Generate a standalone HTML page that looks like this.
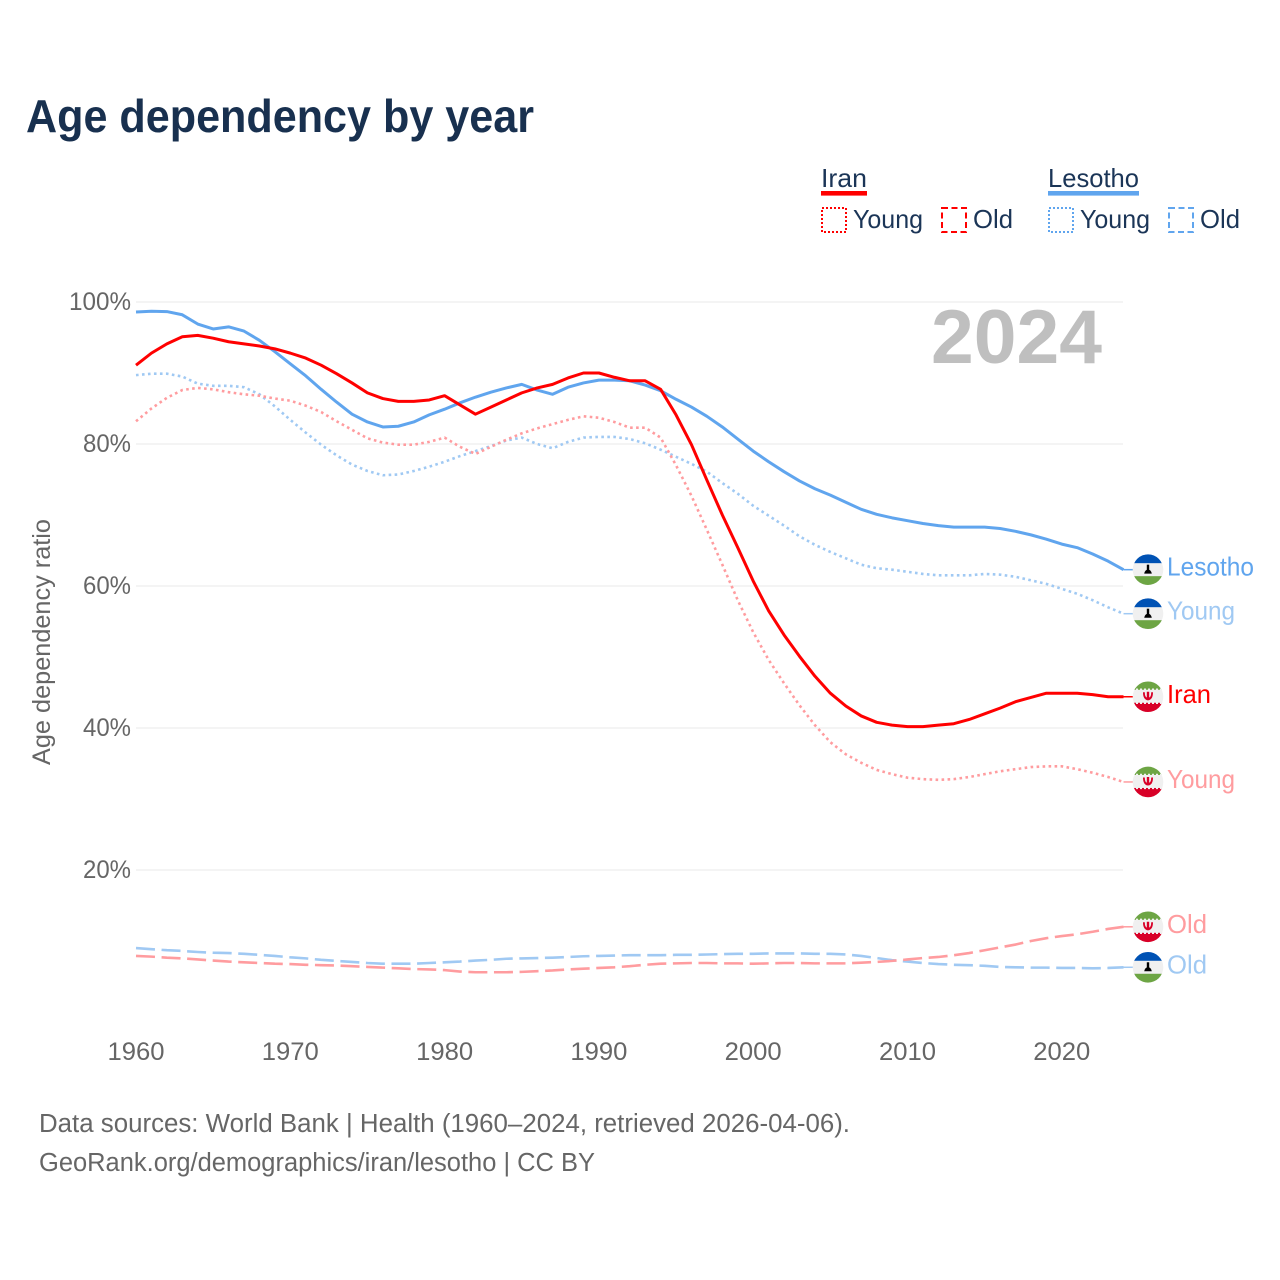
<!DOCTYPE html>
<html lang="en">
<head>
<meta charset="utf-8">
<title>Age dependency by year</title>
<style>
html,body{margin:0;padding:0;background:#fff;}
svg{display:block;}
text{font-family:"Liberation Sans",sans-serif;}
</style>
</head>
<body>
<svg id="chart" xmlns="http://www.w3.org/2000/svg" width="1280" height="1280" viewBox="0 0 1280 1280">
  <defs>
    <clipPath id="flag-clip"><circle cx="0" cy="0" r="15.3"/></clipPath>
    <g id="flag-lesotho" clip-path="url(#flag-clip)">
      <rect x="-16" y="-16" width="32" height="32" fill="#f0f0f0"/>
      <rect x="-16" y="-16" width="32" height="9.5" fill="#0052b4"/>
      <rect x="-16" y="6.5" width="32" height="9.5" fill="#6da544"/>
      <rect x="-1.2" y="-5" width="2.4" height="7" fill="#000"/>
      <path d="M-3.8 4 Q-3 0 0 0 Q3 0 3.8 4 Z" fill="#000"/>
    </g>
    <g id="flag-iran" clip-path="url(#flag-clip)">
      <rect x="-16" y="-16" width="32" height="32" fill="#f0f0f0"/>
      <rect x="-16" y="-16" width="32" height="9" fill="#6da544"/>
      <rect x="-16" y="6" width="32" height="10" fill="#d80027"/>
      <line x1="-16" y1="-7.4" x2="16" y2="-7.4" stroke="#f0f0f0" stroke-width="1.6" stroke-dasharray="2 2"/>
      <line x1="-16" y1="6.4" x2="16" y2="6.4" stroke="#f0f0f0" stroke-width="1.6" stroke-dasharray="2 2"/>
      <path d="M-5 -4.5 Q-5 3 0 3.6 Q5 3 5 -4.5 L3.2 -4.5 Q3.2 0 1.2 0.8 L1.2 -5 L-1.2 -5 L-1.2 0.8 Q-3.2 0 -3.2 -4.5 Z" fill="#d80027"/>
    </g>
  </defs>

  <rect x="0" y="0" width="1280" height="1280" fill="#ffffff"/>

  <text x="26" y="132" font-size="46" font-weight="700" fill="#18304f" textLength="508" lengthAdjust="spacingAndGlyphs">Age dependency by year</text>

  <g font-size="26" fill="#1b3557">
    <text x="821" y="187" textLength="46" lengthAdjust="spacingAndGlyphs">Iran</text>
    <rect x="821" y="191" width="46" height="4.6" fill="#ff0000"/>
    <rect x="822" y="208" width="24" height="24" fill="none" stroke="#ff0000" stroke-width="2" stroke-dasharray="2 2"/>
    <text x="853" y="228" textLength="70" lengthAdjust="spacingAndGlyphs">Young</text>
    <rect x="942" y="208" width="24" height="24" fill="none" stroke="#ff0000" stroke-width="2" stroke-dasharray="6 3.5"/>
    <text x="973" y="228" textLength="40" lengthAdjust="spacingAndGlyphs">Old</text>

    <text x="1048" y="187" textLength="91" lengthAdjust="spacingAndGlyphs">Lesotho</text>
    <rect x="1048" y="191" width="91" height="4.6" fill="#60a5ee"/>
    <rect x="1049" y="208" width="24" height="24" fill="none" stroke="#60a5ee" stroke-width="2" stroke-dasharray="2 2"/>
    <text x="1080" y="228" textLength="70" lengthAdjust="spacingAndGlyphs">Young</text>
    <rect x="1169" y="208" width="24" height="24" fill="none" stroke="#60a5ee" stroke-width="2" stroke-dasharray="6 3.5"/>
    <text x="1200" y="228" textLength="40" lengthAdjust="spacingAndGlyphs">Old</text>
  </g>

  <g id="grid"></g>
  <g id="yticks"></g>
  <g id="xticks"></g>

  <text transform="translate(50,642) rotate(-90)" text-anchor="middle" font-size="25" fill="#666666" textLength="246" lengthAdjust="spacingAndGlyphs">Age dependency ratio</text>

  <text x="931" y="363" font-size="76" font-weight="700" fill="#bfbfbf" textLength="171" lengthAdjust="spacingAndGlyphs">2024</text>

  <g id="series"></g>
  <g id="ends"></g>

  <text x="39" y="1132" font-size="25.5" fill="#666666" textLength="811" lengthAdjust="spacingAndGlyphs">Data sources: World Bank | Health (1960–2024, retrieved 2026-04-06).</text>
  <text x="39" y="1171" font-size="25.5" fill="#666666" textLength="556" lengthAdjust="spacingAndGlyphs">GeoRank.org/demographics/iran/lesotho | CC BY</text>
</svg>

<script>
const startYear = 1960;
const yTickValues = [20, 40, 60, 80, 100];
const yTickLabels = ["20%", "40%", "60%", "80%", "100%"];
const xTickYears = [1960, 1970, 1980, 1990, 2000, 2010, 2020];

const lesothoTotal = [
  98.6, 98.7, 98.65, 98.2, 96.9, 96.2, 96.5, 95.9, 94.6, 93.0,
  91.3, 89.6, 87.7, 85.9, 84.2, 83.1, 82.4, 82.5, 83.1, 84.1,
  84.9, 85.8, 86.6, 87.3, 87.9, 88.4, 87.6, 87.0, 88.0, 88.6,
  89.0, 89.0, 88.9, 88.3, 87.5, 86.3, 85.2, 83.9, 82.4, 80.7,
  79.0, 77.5, 76.1, 74.8, 73.7, 72.8, 71.8, 70.8, 70.1, 69.6,
  69.2, 68.8, 68.5, 68.3, 68.3, 68.3, 68.1, 67.7, 67.2, 66.6,
  65.9, 65.4, 64.5, 63.5, 62.3
];
const iranTotal = [
  91.1, 92.8, 94.1, 95.1, 95.3, 94.9, 94.4, 94.1, 93.8, 93.4,
  92.8, 92.1, 91.1, 89.9, 88.6, 87.2, 86.4, 86.0, 86.0, 86.2,
  86.8, 85.5, 84.2, 85.2, 86.2, 87.2, 87.9, 88.4, 89.3, 90.0,
  90.0, 89.4, 88.9, 88.9, 87.7, 84.1, 79.9, 74.9, 70.0, 65.4,
  60.7, 56.5, 53.1, 50.1, 47.3, 44.9, 43.1, 41.7, 40.8, 40.4,
  40.2, 40.2, 40.4, 40.6, 41.2, 42.0, 42.8, 43.7, 44.3, 44.9,
  44.9, 44.9, 44.7, 44.4, 44.4
];
const lesothoYoung = [
  89.7, 89.9, 89.9, 89.5, 88.5, 88.2, 88.2, 88.0, 87.0, 85.3,
  83.4, 81.6, 79.9, 78.4, 77.1, 76.2, 75.6, 75.7, 76.2, 76.8,
  77.5, 78.3, 79.0, 79.7, 80.5, 80.9, 80.0, 79.4, 80.3, 80.9,
  81.0, 81.0, 80.7, 80.1, 79.2, 78.2, 77.2, 76.1, 74.5, 73.0,
  71.3, 69.9, 68.5, 67.0, 65.8, 64.8, 63.9, 63.0, 62.5, 62.3,
  62.0, 61.7, 61.5, 61.5, 61.5, 61.7, 61.6, 61.3, 60.8, 60.3,
  59.6, 58.9, 58.0, 57.0, 56.1
];
const iranYoung = [
  83.2, 85.0, 86.5, 87.6, 87.9, 87.7, 87.3, 87.0, 86.8, 86.4,
  86.1, 85.4, 84.5, 83.2, 82.0, 80.8, 80.2, 79.9, 79.9, 80.3,
  80.9, 79.6, 78.6, 79.6, 80.6, 81.5, 82.2, 82.8, 83.4, 83.9,
  83.7, 83.1, 82.3, 82.3, 80.9, 77.0, 72.7, 67.9, 63.0, 58.0,
  53.5, 49.6, 46.3, 43.2, 40.4, 38.0, 36.3, 35.1, 34.1, 33.5,
  33.0, 32.8, 32.7, 32.8, 33.1, 33.5, 33.9, 34.2, 34.5, 34.6,
  34.6, 34.2, 33.7, 33.1, 32.4
];
const lesothoOld = [
  9.0, 8.85, 8.7, 8.6, 8.45, 8.35, 8.3, 8.2, 8.05, 7.9,
  7.7, 7.55, 7.35, 7.2, 7.05, 6.9, 6.8, 6.8, 6.8, 6.9,
  7.0, 7.1, 7.25, 7.35, 7.5, 7.55, 7.6, 7.65, 7.75, 7.85,
  7.9, 7.95, 8.0, 8.0, 8.0, 8.05, 8.05, 8.1, 8.15, 8.2,
  8.2, 8.25, 8.25, 8.25, 8.2, 8.2, 8.1, 7.9, 7.6, 7.3,
  7.1, 6.9, 6.75, 6.65, 6.6, 6.5, 6.35, 6.3, 6.25, 6.25,
  6.2, 6.2, 6.15, 6.2, 6.3
];
const iranOld = [
  7.9, 7.8, 7.65, 7.55, 7.4, 7.25, 7.1, 7.0, 6.9, 6.8,
  6.75, 6.65, 6.6, 6.55, 6.45, 6.35, 6.25, 6.15, 6.05, 6.0,
  5.9, 5.7, 5.6, 5.6, 5.6, 5.65, 5.75, 5.85, 6.0, 6.1,
  6.2, 6.3, 6.45, 6.65, 6.8, 6.85, 6.9, 6.9, 6.85, 6.85,
  6.8, 6.85, 6.9, 6.9, 6.85, 6.85, 6.85, 6.95, 7.05, 7.2,
  7.4, 7.6, 7.75, 8.0, 8.3, 8.7, 9.1, 9.5, 10.0, 10.4,
  10.7, 10.95, 11.3, 11.7, 12.0
];

const SVG_NS = "http://www.w3.org/2000/svg";
const plotLeft = 136;
const plotRight = 1123;
const xPerYear = 15.43;
const yZero = 1012;
const yPerUnit = 7.1;

function xScale(year) { return plotLeft + (year - startYear) * xPerYear; }
function yScale(value) { return yZero - value * yPerUnit; }

const gridGroup = document.getElementById("grid");
const yTickGroup = document.getElementById("yticks");
const xTickGroup = document.getElementById("xticks");
const seriesGroup = document.getElementById("series");
const endsGroup = document.getElementById("ends");

yTickValues.forEach(function (value, i) {
  const line = document.createElementNS(SVG_NS, "line");
  line.setAttribute("x1", plotLeft);
  line.setAttribute("x2", plotRight);
  line.setAttribute("y1", yScale(value));
  line.setAttribute("y2", yScale(value));
  line.setAttribute("stroke", "#e8e8e8");
  line.setAttribute("stroke-width", "1");
  
  
  gridGroup.appendChild(line);

  const label = document.createElementNS(SVG_NS, "text");
  label.textContent = yTickLabels[i];
  label.setAttribute("x", 131);
  label.setAttribute("y", yScale(value) + 8);
  label.setAttribute("text-anchor", "end");
  label.setAttribute("font-size", "25");
  label.setAttribute("fill", "#666666");
  label.setAttribute("textLength", yTickLabels[i].length === 4 ? 62 : 48);
  label.setAttribute("lengthAdjust", "spacingAndGlyphs");
  
  
  yTickGroup.appendChild(label);
});

xTickYears.forEach(function (year) {
  const label = document.createElementNS(SVG_NS, "text");
  label.textContent = String(year);
  label.setAttribute("x", xScale(year));
  label.setAttribute("y", 1060);
  label.setAttribute("text-anchor", "middle");
  label.setAttribute("font-size", "25");
  label.setAttribute("fill", "#666666");
  label.setAttribute("textLength", 57);
  label.setAttribute("lengthAdjust", "spacingAndGlyphs");
  
  
  xTickGroup.appendChild(label);
});

function drawLine(values, color, width, dash, name) {
  const path = document.createElementNS(SVG_NS, "path");
  const d = values.map(function (v, i) {
    return (i === 0 ? "M" : "L") + xScale(startYear + i).toFixed(2) + " " + yScale(v).toFixed(2);
  }).join(" ");
  path.setAttribute("d", d);
  path.setAttribute("fill", "none");
  path.setAttribute("stroke", color);
  path.setAttribute("stroke-width", width);
  path.setAttribute("stroke-linejoin", "round");
  if (dash) { path.setAttribute("stroke-dasharray", dash); }
  
  
  seriesGroup.appendChild(path);
}

const BLUE = "#60a5ee";
const BLUE_LIGHT = "#a0c9f3";
const RED = "#ff0000";
const RED_LIGHT = "#ff9c9f";
const DOT = "2.6 3.4";
const DASH = "19 6.6";

drawLine(lesothoOld, BLUE_LIGHT, 2.6, DASH, "line-lesotho-old");
drawLine(iranOld, RED_LIGHT, 2.6, DASH, "line-iran-old");
drawLine(lesothoYoung, BLUE_LIGHT, 2.6, DOT, "line-lesotho-young");
drawLine(iranYoung, RED_LIGHT, 2.6, DOT, "line-iran-young");
drawLine(lesothoTotal, BLUE, 3, null, "line-lesotho-total");
drawLine(iranTotal, RED, 3, null, "line-iran-total");

function drawEnd(values, color, flagId, text, textWidth, name) {
  const last = values[values.length - 1];
  const y = yScale(last);
  const lastX = xScale(startYear + values.length - 1);

  const leader = document.createElementNS(SVG_NS, "line");
  leader.setAttribute("x1", lastX);
  leader.setAttribute("x2", 1134);
  leader.setAttribute("y1", y);
  leader.setAttribute("y2", y);
  leader.setAttribute("stroke", color);
  leader.setAttribute("stroke-width", "1.5");
  
  
  endsGroup.appendChild(leader);

  const flag = document.createElementNS(SVG_NS, "use");
  flag.setAttribute("href", "#" + flagId);
  flag.setAttribute("transform", "translate(1148," + y + ")");
  
  
  endsGroup.appendChild(flag);

  const label = document.createElementNS(SVG_NS, "text");
  label.textContent = text;
  label.setAttribute("x", 1167);
  label.setAttribute("y", y + 6);
  label.setAttribute("font-size", "26");
  label.setAttribute("fill", color);
  label.setAttribute("textLength", textWidth);
  label.setAttribute("lengthAdjust", "spacingAndGlyphs");
  
  
  endsGroup.appendChild(label);
}

drawEnd(lesothoTotal, BLUE, "flag-lesotho", "Lesotho", 87, "end-lesotho-total");
drawEnd(lesothoYoung, BLUE_LIGHT, "flag-lesotho", "Young", 68, "end-lesotho-young");
drawEnd(iranTotal, RED, "flag-iran", "Iran", 44, "end-iran-total");
drawEnd(iranYoung, RED_LIGHT, "flag-iran", "Young", 68, "end-iran-young");
drawEnd(iranOld, RED_LIGHT, "flag-iran", "Old", 40, "end-iran-old");
drawEnd(lesothoOld, BLUE_LIGHT, "flag-lesotho", "Old", 40, "end-lesotho-old");
</script>
</body>
</html>
